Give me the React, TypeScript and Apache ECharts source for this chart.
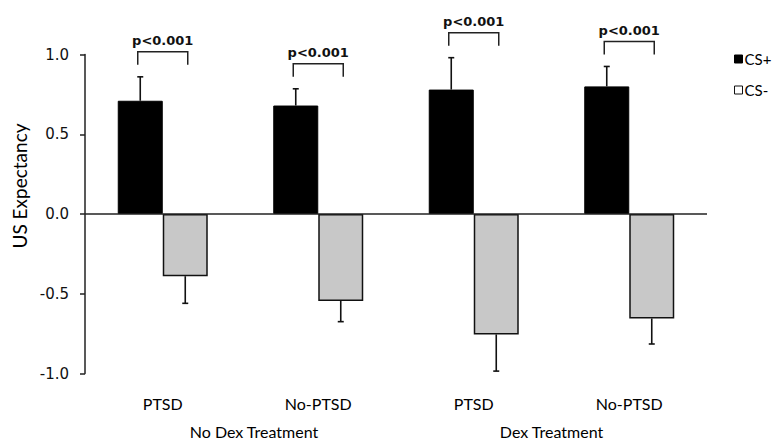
import React, { useEffect, useRef } from "react";
import * as echarts from "echarts";

const categories = ["PTSD", "No-PTSD", "PTSD", "No-PTSD"];
const groupLabels = ["No Dex Treatment", "Dex Treatment"];
const csPlus = [0.71, 0.68, 0.78, 0.8];
const csPlusErr = [0.15, 0.105, 0.2, 0.125];
const csMinus = [-0.39, -0.545, -0.755, -0.655];
const csMinusErr = [0.17, 0.13, 0.23, 0.16];
const pLabels = ["p<0.001", "p<0.001", "p<0.001", "p<0.001"];
const yTicks = [-1.0, -0.5, 0.0, 0.5, 1.0];

const BAR_W = 45;

export default function App() {
  const ref = useRef<HTMLDivElement>(null);
  useEffect(() => {
    document.body.style.margin = "0";
    if (!ref.current) return;
    const chart = echarts.init(ref.current, undefined, { renderer: "svg" });

    const errRender = (offset: number, sign: number) => (params: any, api: any) => {
      const idx = api.value(0);
      const v = api.value(1);
      const e = api.value(2);
      const base = api.coord([idx, v]);
      const end = api.coord([idx, v + sign * e]);
      const x = base[0] + offset;
      const st = { stroke: "#111", lineWidth: 1.6 };
      return {
        type: "group",
        children: [
          { type: "line", shape: { x1: x, y1: base[1], x2: x, y2: end[1] }, style: st },
          { type: "line", shape: { x1: x - 3, y1: end[1], x2: x + 3, y2: end[1] }, style: st },
        ],
      };
    };

    const bracketRender = (params: any, api: any) => {
      const idx = api.value(0);
      const top = api.value(1);
      const p = api.coord([idx, top]);
      const cx = p[0];
      const yb = p[1] - 12;
      const yt = yb - 13;
      const st = { stroke: "#222", lineWidth: 1.5, fill: null };
      return {
        type: "group",
        children: [
          {
            type: "polyline",
            shape: { points: [[cx - 25, yb], [cx - 25, yt], [cx + 25, yt], [cx + 25, yb]] },
            style: st,
          },
          {
            type: "text",
            x: cx,
            y: yt - 11,
            style: {
              text: pLabels[idx],
              fontFamily: "DejaVu Sans",
              fontWeight: "bold",
              fontSize: 13,
              fill: "#111",
              align: "center",
              verticalAlign: "middle",
            },
          },
        ],
      };
    };

    chart.setOption({
      animation: false,
      backgroundColor: "#fff",
      grid: { left: 85, right: 70, top: 54.5, bottom: 67.5 },
      legend: {
        orient: "vertical",
        left: 729,
        top: 46,
        itemWidth: 8,
        itemHeight: 8,
        itemGap: 15,
        icon: "rect",
        textStyle: { fontFamily: "Lato", fontSize: 15, color: "#000", lineHeight: 16, padding: [0, 0, 0, -3] },
        data: [
          { name: "CS+", itemStyle: { color: "#000", borderColor: "#000", borderWidth: 1 } },
          { name: "CS-", itemStyle: { color: "#fff", borderColor: "#111", borderWidth: 1 } },
        ],
      },
      xAxis: {
        type: "category",
        data: categories,
        axisLine: { show: false, onZero: false },
        axisTick: { show: false },
        axisLabel: { margin: 22, fontFamily: "Lato", fontSize: 16, color: "#000" },
      },
      yAxis: {
        type: "value",
        min: -1,
        max: 1,
        interval: 0.5,
        axisLine: { show: true, lineStyle: { color: "#222", width: 1.5 } },
        axisTick: { show: true, length: 5, lineStyle: { color: "#222", width: 1.5 } },
        splitLine: { show: false },
        axisLabel: {
          margin: 16,
          fontFamily: "DejaVu Sans",
          fontSize: 15,
          color: "#111",
          formatter: (v: number) => (yTicks.includes(v) ? v.toFixed(1) : ""),
        },
      },
      graphic: [
        {
          type: "text",
          x: 19,
          y: 186,
          rotation: Math.PI / 2,
          style: {
            text: "US Expectancy",
            fontFamily: "Lato",
            fontSize: 19,
            fill: "#000",
            align: "center",
            verticalAlign: "middle",
          },
        },
        {
          type: "text",
          x: 254,
          y: 431,
          style: { text: groupLabels[0], fontFamily: "Lato", fontSize: 16, fill: "#000", align: "center", verticalAlign: "middle" },
        },
        {
          type: "text",
          x: 551.5,
          y: 431,
          style: { text: groupLabels[1], fontFamily: "Lato", fontSize: 16, fill: "#000", align: "center", verticalAlign: "middle" },
        },
      ],
      series: [
        {
          name: "CS+",
          type: "bar",
          data: csPlus,
          barWidth: BAR_W,
          barGap: "0%",
          itemStyle: { color: "#000", borderColor: "#000", borderWidth: 1 },
          markLine: {
            silent: true,
            symbol: "none",
            label: { show: false },
            lineStyle: { color: "#222", width: 1.5, type: "solid" },
            data: [{ yAxis: 0 }],
          },
        },
        {
          name: "CS-",
          type: "bar",
          data: csMinus,
          barWidth: BAR_W,
          barGap: "0%",
          itemStyle: { color: "#c8c8c8", borderColor: "#111", borderWidth: 1.5 },
        },
        {
          type: "custom",
          renderItem: errRender(-BAR_W / 2, 1),
          data: csPlus.map((v, i) => [i, v, csPlusErr[i]]),
          z: 5,
          silent: true,
        },
        {
          type: "custom",
          renderItem: errRender(BAR_W / 2, -1),
          data: csMinus.map((v, i) => [i, v, csMinusErr[i]]),
          z: 5,
          silent: true,
        },
        {
          type: "custom",
          renderItem: bracketRender,
          clip: false,
          data: csPlus.map((v, i) => [i, v + csPlusErr[i]]),
          z: 6,
          silent: true,
        },
      ],
    });
    return () => chart.dispose();
  }, []);
  return <div ref={ref} style={{ width: 777, height: 441 }} />;
}
